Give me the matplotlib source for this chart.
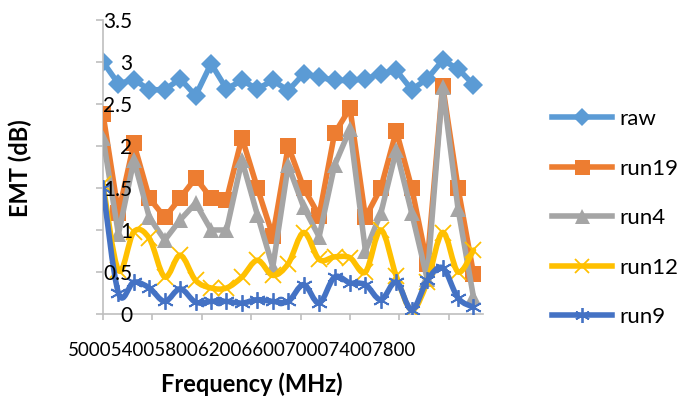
import numpy as np
import matplotlib
matplotlib.use("Agg")
import matplotlib.pyplot as plt
from matplotlib.path import Path
from matplotlib.patches import PathPatch
from matplotlib.lines import Line2D

plt.rcParams['font.family'] = ['Lato', 'DejaVu Sans']

freq = [5000 + 125 * i for i in range(25)]  # MHz, 25 points
raw = [3.0, 2.74, 2.79, 2.67, 2.67, 2.8, 2.6, 2.98, 2.68, 2.78, 2.68, 2.78, 2.66,
       2.86, 2.82, 2.78, 2.78, 2.8, 2.86, 2.9, 2.67, 2.8, 3.02, 2.92, 2.73]
run19 = [2.38, 1.2, 2.03, 1.38, 1.15, 1.38, 1.62, 1.38, 1.36, 2.1, 1.5, 0.93, 2.0,
         1.5, 1.17, 2.15, 2.45, 1.15, 1.5, 2.18, 1.5, 0.6, 2.72, 1.5, 0.48]
run4 = [2.1, 0.95, 1.83, 1.15, 0.88, 1.12, 1.32, 1.0, 1.0, 1.83, 1.18, 0.56, 1.77,
        1.27, 0.92, 1.77, 2.2, 0.75, 1.2, 1.95, 1.2, 0.42, 2.7, 1.25, 0.2]
run12 = [1.55, 0.52, 0.98, 0.9, 0.44, 0.7, 0.4, 0.31, 0.31, 0.44, 0.64, 0.46, 0.6,
         0.97, 0.65, 0.68, 0.67, 0.5, 1.0, 0.45, 0.05, 0.38, 0.97, 0.5, 0.76]
run9 = [1.5, 0.25, 0.38, 0.31, 0.15, 0.3, 0.14, 0.15, 0.15, 0.13, 0.17, 0.15, 0.15,
        0.35, 0.13, 0.44, 0.37, 0.35, 0.17, 0.38, 0.05, 0.4, 0.55, 0.19, 0.08]

yticks = [0, 0.5, 1, 1.5, 2, 2.5, 3, 3.5]
ytick_labels = ["0", "0.5", "1", "1.5", "2", "2.5", "3", "3.5"]
xticks = [5000, 5400, 5800, 6200, 6600, 7000, 7400, 7800]
xtick_labels = ["5000", "5400", "5800", "6200", "6600", "7000", "7400", "7800"]

fig = plt.figure(figsize=(6.82, 4.07), dpi=100)
ax = fig.add_axes([103/682, 1-314/407, 380/682, 294/407])
ax.set_xlim(5000, 8077)
ax.set_ylim(0, 3.5)


def smooth_path(x, y):
    x = np.asarray(x, float); y = np.asarray(y, float)
    n = len(x)
    verts = [(x[0], y[0])]
    codes = [Path.MOVETO]
    for i in range(n - 1):
        i0 = max(i - 1, 0); i3 = min(i + 2, n - 1)
        c1 = (x[i] + (x[i+1] - x[i0]) / 6, y[i] + (y[i+1] - y[i0]) / 6)
        c2 = (x[i+1] - (x[i3] - x[i]) / 6, y[i+1] - (y[i3] - y[i]) / 6)
        verts += [c1, c2, (x[i+1], y[i+1])]
        codes += [Path.CURVE4] * 3
    return Path(verts, codes)


series = [
    ("raw", raw, '#5B9BD5', 'D', 10, False),
    ("run19", run19, '#ED7D31', 's', 12, False),
    ("run4", run4, '#A5A5A5', '^', 12, False),
    ("run12", run12, '#FFC000', 'x', 11, True),
    ("run9", run9, '#4472C4', (6, 2, 0), 12, True),
]

handles = []
for k, (name, vals, col, mk, ms, smooth) in enumerate(series):
    z = 2 + k
    thin = mk in ('x',) or isinstance(mk, tuple)
    if smooth:
        ax.add_patch(PathPatch(smooth_path(freq, vals), fill=False, edgecolor=col,
                               lw=4, capstyle='round', joinstyle='round', zorder=z))
        ax.plot(freq, vals, ls='none', marker=mk, ms=ms, mew=1.3,
                mec=col, mfc=col, zorder=z + 0.5)
    else:
        ax.plot(freq, vals, color=col, lw=4, solid_joinstyle='round',
                marker=mk, ms=ms, mew=0, mfc=col, zorder=z)
    h = Line2D([], [], color=col, lw=4, marker=mk, ms=ms * 0.9,
               mew=(1.3 if thin else 0), mec=col, mfc=col)
    handles.append(h)

for s in ['top', 'right']:
    ax.spines[s].set_visible(False)
for s in ['left', 'bottom']:
    ax.spines[s].set_color('#BFBFBF')
    ax.spines[s].set_linewidth(1.2)

ax.set_yticks(yticks)
ax.set_yticklabels(ytick_labels)
ax.tick_params(axis='y', direction='out', length=5, width=1.2, color='#BFBFBF',
               pad=-26, labelsize=15, labelcolor='black')
ax.yaxis.set_zorder(20)
ax.set_xticks(xticks)
ax.set_xticklabels([])
ax.tick_params(axis='x', direction='out', length=4.5, width=1.2, color='#BFBFBF')

ax.text(-35/380, -36/294, "".join(xtick_labels), transform=ax.transAxes,
        ha='left', va='center', fontsize=13.5)

fig.text(252/682, 1-384/407, "Frequency (MHz)", ha='center', va='center',
         fontsize=17, fontweight='bold')
fig.text(20/682, 1-168/407, "EMT (dB)", ha='center', va='center',
         fontsize=17, fontweight='bold', rotation=90)

fig.legend(handles, [s[0] for s in series], loc='upper left',
           bbox_to_anchor=(552/682, 1-109/407), frameon=False, fontsize=16,
           handlelength=2.7, handletextpad=0.35, labelspacing=1.33,
           borderpad=0, borderaxespad=0)

fig.savefig("out.png", dpi=100)
